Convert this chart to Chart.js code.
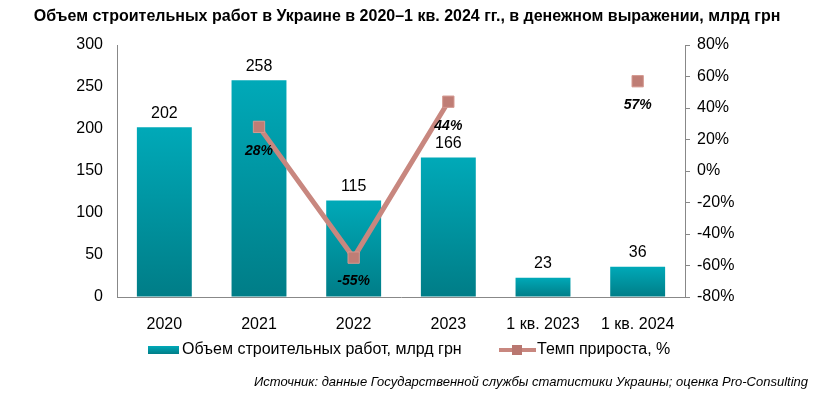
<!DOCTYPE html>
<html>
<head>
<meta charset="utf-8">
<script src="https://cdn.jsdelivr.net/npm/chart.js@4.4.1/dist/chart.umd.min.js"></script>
<style>
  html, body { margin: 0; padding: 0; background: #fff; }
  #wrap { width: 814px; height: 398px; position: relative; }
</style>
</head>
<body>
<div id="wrap"><canvas id="myChart"></canvas></div>
<script>
// data
const categories = ['2020', '2021', '2022', '2023', '1 кв. 2023', '1 кв. 2024'];
const volume = [202, 258, 115, 166, 23, 36];
const growth = [null, 28, -55, 44, null, 57];
const volumeTicks = [0, 50, 100, 150, 200, 250, 300];
const growthTicks = [-80, -60, -40, -20, 0, 20, 40, 60, 80];

const titleText = 'Объем строительных работ в Украине в 2020–1 кв. 2024 гг., в денежном выражении, млрд грн';
const sourceText = 'Источник: данные Государственной службы статистики Украины; оценка Pro-Consulting';
const legendBar = 'Объем строительных работ, млрд грн';
const legendLine = 'Темп прироста, %';

const FONT = '"Liberation Sans", Arial, sans-serif';

function barGradient(c) {
    const chart = c.chart;
    if (!chart.chartArea || c.dataIndex === undefined) return '#009aa8';
    const ys = chart.scales.y;
    const top = ys.getPixelForValue(c.raw);
    const bottom = ys.getPixelForValue(0);
    const g = chart.ctx.createLinearGradient(0, top, 0, bottom);
    g.addColorStop(0, '#00a9b8');
    g.addColorStop(1, '#007d87');
    return g;
}

// labels, title, legend and source drawn on the canvas
const extras = {
    id: 'extras',
    afterDatasetsDraw(chart) {
        const ctx = chart.ctx;
        ctx.save();
        ctx.textAlign = 'center';

        // bar values
        ctx.font = '16px ' + FONT;
        ctx.fillStyle = '#000';
        ctx.textBaseline = 'bottom';
        chart.getDatasetMeta(1).data.forEach((bar, i) => {
            ctx.fillText(volume[i], bar.x, bar.y - 6);
        });

        // growth values
        ctx.font = 'italic bold 14px ' + FONT;
        ctx.textBaseline = 'middle';
        chart.getDatasetMeta(0).data.forEach((pt, i) => {
            if (growth[i] === null) return;
            ctx.fillText(growth[i] + '%', pt.x, pt.y + 24);
        });

        // title
        ctx.font = 'bold 16px ' + FONT;
        ctx.fillText(titleText, 407, 17);

        // legend
        ctx.textAlign = 'left';
        ctx.font = '16px ' + FONT;
        const lg = ctx.createLinearGradient(0, 346, 0, 354);
        lg.addColorStop(0, '#00a9b8');
        lg.addColorStop(1, '#007d87');
        ctx.fillStyle = lg;
        ctx.fillRect(148, 346, 31, 8);
        ctx.fillStyle = '#000';
        ctx.fillText(legendBar, 182, 350);

        ctx.strokeStyle = '#c8877f';
        ctx.lineWidth = 4;
        ctx.beginPath();
        ctx.moveTo(499, 350);
        ctx.lineTo(536, 350);
        ctx.stroke();
        ctx.fillStyle = '#b97770';
        ctx.fillRect(512, 345, 10, 10);
        ctx.fillStyle = '#000';
        ctx.fillText(legendLine, 537, 350);

        // source
        ctx.textAlign = 'right';
        ctx.font = 'italic 13px ' + FONT;
        ctx.fillText(sourceText, 808, 382);
        ctx.restore();
    }
};

const ctx = document.getElementById('myChart');

new Chart(ctx, {
    type: 'bar',
    data: {
        labels: categories,
        datasets: [{
            type: 'line',
            label: legendLine,
            data: growth,
            yAxisID: 'y1',
            borderColor: '#c8877f',
            borderWidth: 5,
            spanGaps: false,
            pointStyle: 'rect',
            pointRadius: 8,
            pointHoverRadius: 8,
            pointBackgroundColor: '#bf7d75',
            pointBorderColor: '#d59990',
            pointBorderWidth: 1,
            order: 0
        }, {
            label: legendBar,
            data: volume,
            yAxisID: 'y',
            backgroundColor: barGradient,
            categoryPercentage: 0.58,
            barPercentage: 1,
            order: 1
        }]
    },
    options: {
        responsive: true,
        maintainAspectRatio: false,
        animation: false,
        layout: { padding: { top: 45, left: 0, right: 0, bottom: 0 } },
        plugins: {
            legend: { display: false },
            title: { display: false },
            tooltip: { enabled: false }
        },
        scales: {
            x: {
                offset: true,
                grid: { display: false },
                border: { display: true, color: '#888', width: 1 },
                ticks: { color: '#000', font: { family: FONT, size: 16 }, padding: 10, maxRotation: 0 },
                afterFit: s => { s.height = 101; }
            },
            y: {
                position: 'left',
                min: 0,
                max: 300,
                afterBuildTicks: s => { s.ticks = volumeTicks.map(v => ({ value: v })); },
                grid: { drawOnChartArea: false, drawTicks: false },
                border: { display: true, color: '#888', width: 1 },
                ticks: { color: '#000', font: { family: FONT, size: 16 }, padding: 14 },
                afterFit: s => { s.width = 117; }
            },
            y1: {
                position: 'right',
                min: -80,
                max: 80,
                afterBuildTicks: s => { s.ticks = growthTicks.map(v => ({ value: v })); },
                grid: { drawOnChartArea: false, drawTicks: true, tickLength: 5, color: '#888' },
                border: { display: true, color: '#888', width: 1 },
                ticks: { color: '#000', font: { family: FONT, size: 16 }, padding: 7, callback: v => v + '%' },
                afterFit: s => { s.width = 129; }
            }
        }
    },
    plugins: [extras]
});
</script>
</body>
</html>
